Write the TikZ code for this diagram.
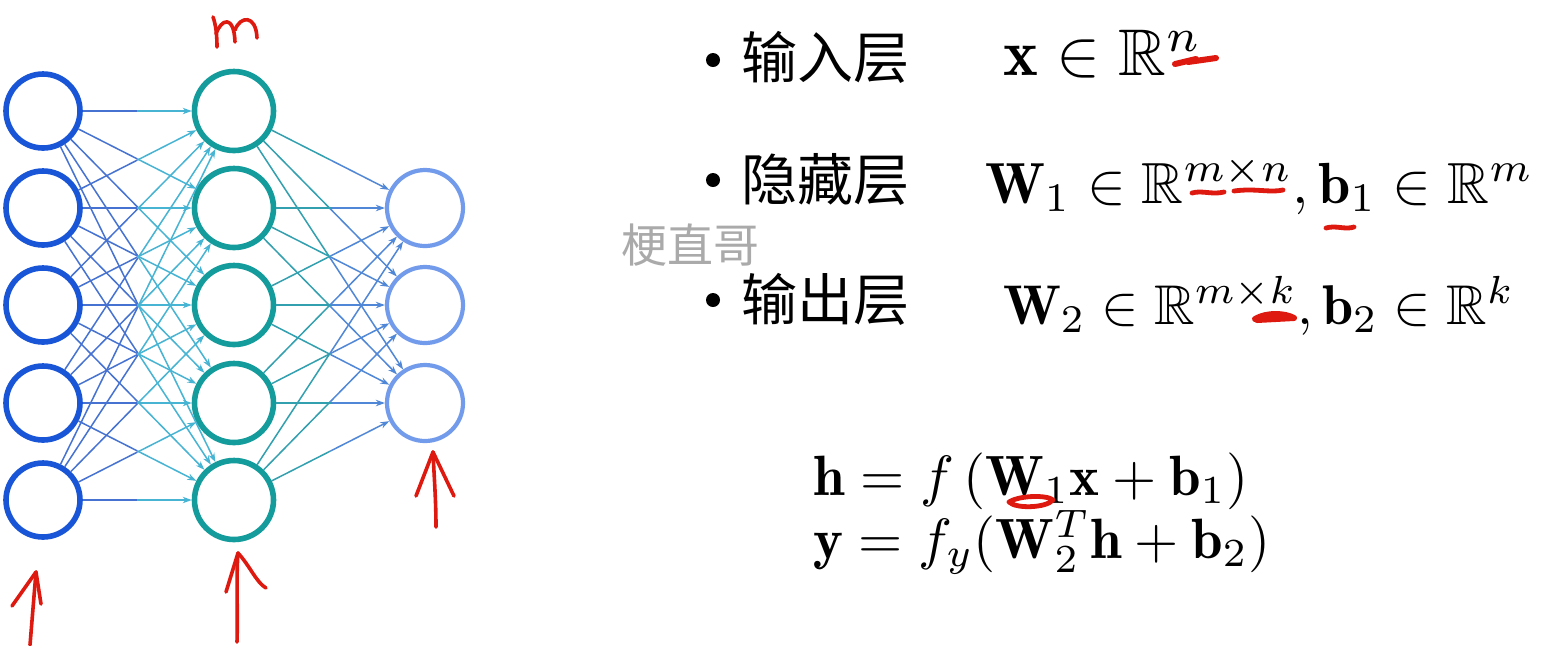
\documentclass[tikz,border=0pt]{standalone}
\usepackage{amsmath,amssymb}
\usepackage{fontspec}
\newfontfamily\cjk{Noto Sans CJK SC}
\usetikzlibrary{arrows.meta}
\definecolor{cin}{RGB}{25,85,215}
\definecolor{chid}{RGB}{20,155,155}
\definecolor{cout}{RGB}{115,155,235}
\definecolor{ea}{RGB}{70,115,210}
\definecolor{eb}{RGB}{70,180,210}
\definecolor{fa}{RGB}{50,160,175}
\definecolor{fb}{RGB}{80,135,215}
\definecolor{pen}{RGB}{222,25,15}
\definecolor{wm}{RGB}{170,170,170}
\begin{document}
\begin{tikzpicture}[x=0.5pt,y=-0.5pt,
  neuron/.style={circle, inner sep=0pt, line width=2.8pt, fill=white},
  inn/.style={neuron, minimum size=37pt, draw=cin},
  hid/.style={neuron, minimum size=39.5pt, draw=chid},
  outn/.style={neuron, minimum size=38pt, draw=cout, line width=2.1pt},
  tipstyle/.style={-{Stealth[length=4.5pt,width=3.2pt]}},
  e1a/.style={line width=0.75pt, draw=ea},
  e1b/.style={line width=0.75pt, draw=eb, tipstyle},
  e2a/.style={line width=0.75pt, draw=fa},
  e2b/.style={line width=0.75pt, draw=fb, tipstyle},
  handpen/.style={draw=pen, line width=1.8pt, line cap=round, line join=round},
  underpen/.style={draw=pen, line width=2.4pt, line cap=round, line join=round},
  txt/.style={anchor=base west, inner sep=0pt, outer sep=0pt},
  mth/.style={txt, scale=2.9},
  zh/.style={txt, scale=2.8},
  dot/.style={circle, fill=black, inner sep=0pt, minimum size=7pt}
]
\fill[white] (0,0) rectangle (1542,645);
\useasboundingbox (0,0) rectangle (1542,645);

% neurons
\foreach \i/\y in {1/111,2/208,3/305,4/403,5/500}{
  \node[inn] (i\i) at (43,\y) {};
  \node[hid] (h\i) at (234,\y) {};
}
\foreach \i/\y in {1/208,2/305,3/403}{
  \node[outn] (o\i) at (425,\y) {};
}

% input -> hidden
\foreach \a in {1,...,5}{
  \foreach \b in {1,...,5}{
    \path (i\a) -- (h\b) coordinate[pos=0.5] (m\a\b);
    \draw[e1a] (i\a) -- (m\a\b);
    \draw[e1b] (m\a\b) -- (h\b);
  }
}
% hidden -> output
\foreach \a in {1,...,5}{
  \foreach \b in {1,2,3}{
    \path (h\a) -- (o\b) coordinate[pos=0.5] (n\a\b);
    \draw[e2a] (h\a) -- (n\a\b);
    \draw[e2b] (n\a\b) -- (o\b);
  }
}

% handwritten red annotations
\draw[handpen] (213,17) .. controls (216,25) and (217,36) .. (217,47);
\draw[handpen] (216,34) .. controls (221,19) and (234,14) .. (235,42);
\draw[handpen] (235,30) .. controls (240,16) and (256,14) .. (257,38);

\coordinate (ta) at (36,572);
\draw[handpen] (30,645) -- (ta);
\draw[handpen] (12,606) -- (ta) -- (41,604);

\coordinate (tb) at (238,553);
\draw[handpen] (237,642) .. controls (238,610) and (236,580) .. (tb);
\draw[handpen] (226,592) -- (tb) .. controls (250,566) and (256,582) .. (266,588);

\coordinate (tc) at (433,452);
\draw[handpen] (436,527) .. controls (436,500) and (434,475) .. (tc);
\draw[handpen] (416,496) -- (tc) -- (454,496);

% bullets and labels
\node[dot] (d1) at (713,60) {};
\node[dot] (d2) at (713,180) {};
\node[dot] (d3) at (713,300) {};
\node[zh] (l1) at (741,78) {\cjk 输入层};
\node[zh] (l2) at (741,200) {\cjk 隐藏层};
\node[zh] (l3) at (741,320) {\cjk 输出层};

\node[mth, scale=3.3/2.9] (r1) at (1003,75) {$\mathbf{x}\in\mathbb{R}^{n}$};
\node[mth] (r2) at (985,203) {$\mathbf{W}_1\in\mathbb{R}^{m\times n},\mathbf{b}_1\in\mathbb{R}^{m}$};
\node[txt, scale=2.8] (r3) at (1003,324) {$\mathbf{W}_2\in\mathbb{R}^{m\times k},\mathbf{b}_2\in\mathbb{R}^{k}$};

\node[scale=2.3, text=wm] (wmk) at (690,245) {\cjk 梗直哥};

\node[txt, scale=2.84] (q1) at (813,495) {$\mathbf{h}=f\,(\mathbf{W}_1\mathbf{x}+\mathbf{b}_1)$};
\node[txt, scale=2.84] (q2) at (813,558) {$\mathbf{y}=f_y(\mathbf{W}_2^T\mathbf{h}+\mathbf{b}_2)$};

% red underline marks
\draw[underpen, line width=3pt] (1175,64) -- (1196,59) -- (1188,62) -- (1216,58);
\draw[underpen] (1192,193) .. controls (1202,190) and (1212,195) .. (1224,192);
\draw[underpen] (1234,191) .. controls (1255,188) and (1270,193) .. (1283,190);
\draw[underpen] (1326,228) .. controls (1336,225) and (1345,230) .. (1354,227);
\draw[underpen, line width=3pt] (1255,319) .. controls (1267,312) and (1285,313) .. (1294,318) -- (1257,320);
\draw[underpen] (1009,502) .. controls (1020,495) and (1048,495) .. (1053,500)
               .. controls (1046,508) and (1016,509) .. (1009,502);
\end{tikzpicture}
\end{document}
